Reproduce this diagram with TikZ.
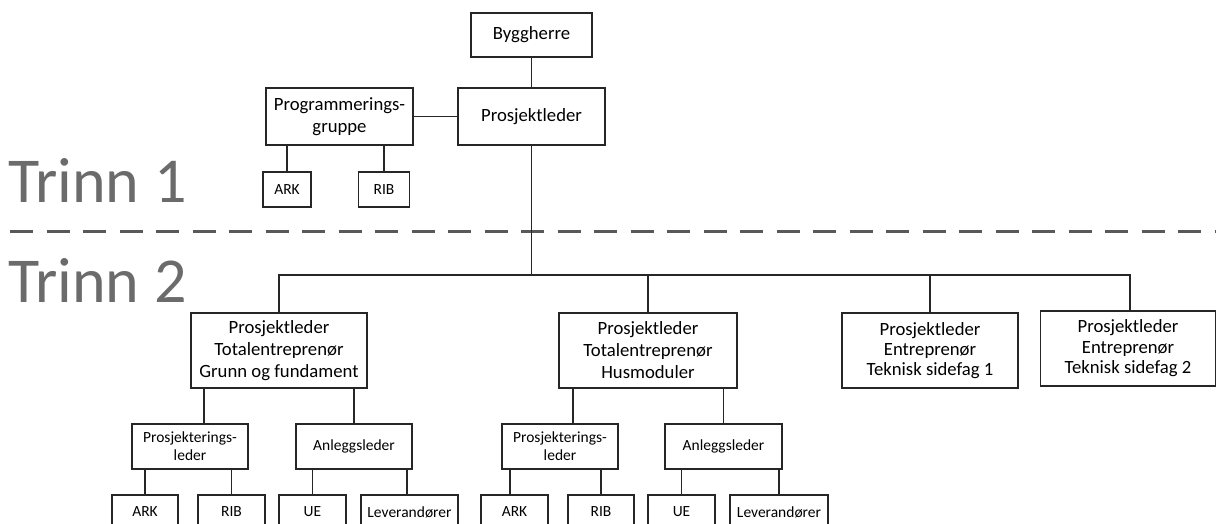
\documentclass[tikz,border=0pt]{standalone}
\usepackage{fontspec}
\setmainfont{Carlito}
\begin{document}
\begin{tikzpicture}[x=1pt,y=-1pt,
  box/.style={draw=black!85, line width=1.6pt, inner sep=0pt, align=center,
              font=\fontsize{18.7}{22}\selectfont},
  sbox/.style={box, font=\fontsize{15.5}{18}\selectfont},
  link/.style={draw=black!85, line width=1.8pt},
  stage/.style={text=black!58, font=\fontsize{64}{64}\selectfont,
                anchor=base west, inner sep=0pt},
  phase/.style={draw=black!65, line width=3pt, dash pattern=on 23pt off 13.5pt}]
\clip (0,0) rectangle (1216,524);

% stage labels and divider
\node[stage] (t1) at (8,202) {Trinn 1};
\node[stage] (t2) at (8,302) {Trinn 2};
\coordinate (dl) at (10,231);
\coordinate (dr) at (1216,231);
\draw[phase] (dl) -- (dr);

% stage 1
\node[box, minimum width=121pt, minimum height=44pt] (bygg) at (531.5,35) {Byggherre};
\node[box, minimum width=147pt, minimum height=57pt] (pl) at (531.5,116.5) {Prosjektleder};
\node[box, minimum width=147pt, minimum height=57pt] (prog) at (339.5,116.5) {Programmerings-\\gruppe};
\node[sbox, minimum width=48pt, minimum height=35pt] (ark0) at (287,189.5) {ARK};
\node[sbox, minimum width=51pt, minimum height=35pt] (rib0) at (384,189.5) {RIB};

\draw[link] (bygg) -- (pl);
\draw[link] (prog.east) -- (pl.west);
\draw[link] (ark0.north) -- (ark0.north |- prog.south);
\draw[link] (rib0.north) -- (rib0.north |- prog.south);

% stage 2 managers
\node[box, minimum width=176pt, minimum height=75pt] (pl1) at (279,350.5)
  {Prosjektleder\\Totalentreprenør\\Grunn og fundament};
\node[box, minimum width=178pt, minimum height=75pt] (pl2) at (648,350.5)
  {Prosjektleder\\Totalentreprenør\\Husmoduler};
\node[box, minimum width=176pt, minimum height=75pt, font=\fontsize{18.7}{20}\selectfont] (pl3) at (930,350.5)
  {Prosjektleder\\Entreprenør\\Teknisk sidefag 1};
\node[box, minimum width=175pt, minimum height=75pt, font=\fontsize{18.7}{20.5}\selectfont] (pl4) at (1128,348.5)
  {Prosjektleder\\Entreprenør\\Teknisk sidefag 2};

\coordinate (bus) at (531.5,275);
\draw[link] (pl.south) -- (pl.south |- bus);
\draw[link] (pl1.north) |- ([xshift=2pt]pl4.north |- bus) -- ([xshift=2pt]pl4.north);
\draw[link] (pl2.north) -- (pl2.north |- bus);
\draw[link] (pl3.north) -- (pl3.north |- bus);

% stage 2 leaders
\node[sbox, minimum width=116pt, minimum height=45pt] (pj1) at (190,446.5) {Prosjekterings-\\leder};
\node[sbox, minimum width=116pt, minimum height=45pt] (an1) at (354,446.5) {Anleggsleder};
\node[sbox, minimum width=116pt, minimum height=45pt] (pj2) at (560,446.5) {Prosjekterings-\\leder};
\node[sbox, minimum width=117pt, minimum height=45pt] (an2) at (723.5,446.5) {Anleggsleder};

\draw[link] ([xshift=14pt]pj1.north) -- ([xshift=14pt]pj1.north |- pl1.south);
\draw[link] (an1.north) -- (an1.north |- pl1.south);
\draw[link] ([xshift=13pt]pj2.north) -- ([xshift=13pt]pj2.north |- pl2.south);
\draw[link] (an2.north) -- (an2.north |- pl2.south);

% stage 2 consultants and contractors
\node[sbox, minimum width=66pt, minimum height=34pt] (ark1) at (145,512) {ARK};
\node[sbox, minimum width=67pt, minimum height=34pt] (rib1) at (231.5,512) {RIB};
\node[sbox, minimum width=67pt, minimum height=34pt] (ue1) at (312.5,512) {UE};
\node[sbox, minimum width=97pt, minimum height=34pt] (lev1) at (409.5,512) {Leverandører};
\node[sbox, minimum width=67pt, minimum height=34pt] (ark2) at (514.5,512) {ARK};
\node[sbox, minimum width=66pt, minimum height=34pt] (rib2) at (601,512) {RIB};
\node[sbox, minimum width=67pt, minimum height=34pt] (ue2) at (681.5,512) {UE};
\node[sbox, minimum width=98pt, minimum height=34pt] (lev2) at (779,512) {Leverandører};

\draw[link] (ark1.north) -- (ark1.north |- pj1.south);
\draw[link] (rib1.north) -- (rib1.north |- pj1.south);
\draw[link] (ue1.north) -- (ue1.north |- an1.south);
\draw[link] ([xshift=-2.5pt]lev1.north) -- ([xshift=-2.5pt]lev1.north |- an1.south);
\draw[link] ([xshift=-4.5pt]ark2.north) -- ([xshift=-4.5pt]ark2.north |- pj2.south);
\draw[link] (rib2.north) -- (rib2.north |- pj2.south);
\draw[link] (ue2.north) -- (ue2.north |- an2.south);
\draw[link] (lev2.north) -- (lev2.north |- an2.south);
\end{tikzpicture}
\end{document}
